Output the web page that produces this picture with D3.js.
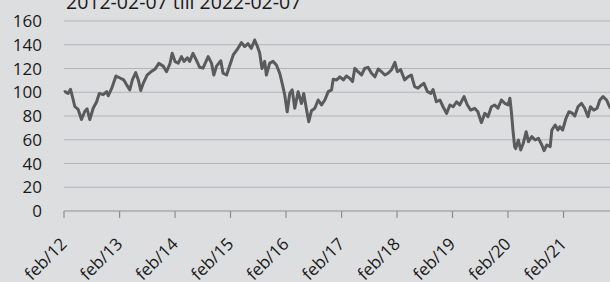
<!DOCTYPE html>
<html>
<head>
<meta charset="utf-8">
<script src="https://cdn.jsdelivr.net/npm/d3@7"></script>
<style>
  html, body { margin: 0; padding: 0; background: #dddee0; }
  svg { display: block; font-family: "Open Sans", sans-serif; }
</style>
</head>
<body>
<svg width="610" height="282"></svg>
<script>
const title = "2012-02-07 till 2022-02-07";

const dates = [
  "2012-02-07","2012-02-14","2012-03-05","2012-03-21","2012-04-03","2012-04-18","2012-05-10","2012-06-01",
  "2012-06-23","2012-07-08","2012-07-26","2012-08-17","2012-09-09","2012-09-26","2012-10-22","2012-11-14",
  "2012-11-24","2012-12-16","2013-01-14","2013-02-10","2013-03-06","2013-03-24","2013-04-15","2013-05-02",
  "2013-05-24","2013-06-11","2013-06-26","2013-07-11","2013-08-07","2013-08-30","2013-09-27","2013-10-23",
  "2013-11-21","2013-12-13","2014-01-04","2014-01-19","2014-02-07","2014-02-28","2014-03-21","2014-04-07",
  "2014-04-29","2014-05-14","2014-06-05","2014-06-27","2014-07-19","2014-08-10","2014-09-13","2014-10-05",
  "2014-10-20","2014-11-07","2014-12-05","2014-12-20","2015-01-12","2015-02-03","2015-02-25","2015-03-28",
  "2015-04-20","2015-05-11","2015-06-02","2015-06-24","2015-07-16","2015-08-03","2015-08-18","2015-09-02",
  "2015-09-20","2015-10-01","2015-10-23","2015-11-14","2015-12-06","2015-12-28","2016-01-13","2016-01-30",
  "2016-02-15","2016-03-03","2016-03-19","2016-04-05","2016-04-27","2016-05-19","2016-06-03","2016-06-21",
  "2016-07-06","2016-07-24","2016-08-15","2016-09-06","2016-09-28","2016-10-20","2016-11-11","2016-12-03",
  "2016-12-14","2017-01-06","2017-01-27","2017-02-19","2017-03-11","2017-04-02","2017-04-20","2017-05-05",
  "2017-05-26","2017-06-18","2017-07-09","2017-07-31","2017-08-23","2017-09-14","2017-10-06","2017-10-28",
  "2017-11-19","2017-12-10","2018-01-02","2018-01-24","2018-02-09","2018-03-03","2018-03-29","2018-04-20",
  "2018-05-12","2018-06-03","2018-06-25","2018-07-17","2018-08-03","2018-08-26","2018-09-17","2018-10-02",
  "2018-10-24","2018-11-16","2018-12-07","2018-12-30","2019-01-21","2019-02-12","2019-03-06","2019-03-26",
  "2019-04-24","2019-05-16","2019-06-07","2019-07-03","2019-07-24","2019-08-16","2019-09-08","2019-09-29",
  "2019-10-21","2019-11-12","2019-12-03","2019-12-26","2020-01-17","2020-02-08","2020-02-20","2020-03-01",
  "2020-03-11","2020-03-22","2020-03-29","2020-04-16","2020-05-01","2020-05-18","2020-06-06","2020-06-21",
  "2020-07-13","2020-08-04","2020-08-26","2020-09-17","2020-10-02","2020-10-20","2020-11-11","2020-11-22",
  "2020-12-14","2021-01-01","2021-01-14","2021-02-01","2021-02-23","2021-03-15","2021-04-07","2021-04-22",
  "2021-05-13","2021-06-05","2021-06-26","2021-07-18","2021-08-03","2021-08-25","2021-09-16","2021-10-04",
  "2021-10-25","2021-11-17","2021-12-09","2022-01-10","2022-02-07"
];

const values = [
  100, 100.5, 99, 102.5, 96, 88, 85.5, 77,
  84, 86, 77, 86.5, 92, 99, 98, 100.5,
  97, 103, 113.7, 112, 110.5, 106.5, 102, 110.5,
  116.5, 110, 101.5, 107, 114.5, 117, 119.3, 124.3,
  122, 117.3, 124, 132.8, 125.8, 124.5, 130, 126,
  129, 126, 132.8, 127, 121, 120.3, 130, 124.5,
  114.5, 122, 126.5, 116, 114.5, 123, 131.4, 137,
  141.8, 138.5, 141, 137, 144, 138.5, 133, 120,
  126, 114.5, 124.5, 126, 123, 116, 107.5, 97.7,
  83.6, 99, 102, 86.5, 100.5, 90.5, 99, 85.5,
  75.2, 84.5, 86.5, 93.5, 89.3, 93.5, 100.5, 102,
  110.9, 110.4, 113, 110.4, 113.7, 111.7, 109, 120.1,
  117.3, 114.5, 120, 121, 116, 113, 119.6, 117.3,
  114.5, 116, 119, 125.2, 117.3, 119, 110.4, 113,
  114.5, 104.7, 103.4, 106, 107.5, 100.5, 99, 102.3,
  92, 93.5, 87.8, 82.2, 89.3, 87.8, 92, 89.3,
  96.3, 89.3, 85, 86.5, 83.6, 74.4, 82.2, 79.5,
  87.8, 89.3, 86.5, 93.5, 90.7, 89.3, 95, 83,
  68, 54.2, 52.5, 59.8, 51.4, 57, 66.8, 58.4,
  62.6, 59.8, 61.2, 55.6, 50.8, 55.6, 54.2, 68.2,
  72.4, 68.2, 71, 68.2, 78, 83.6, 82.2, 80,
  87.8, 90.7, 86.5, 79.5, 87.8, 85, 86.5, 93.5,
  96.3, 93.5, 87.2, 88, 90
];

const yTicks = [0, 20, 40, 60, 80, 100, 120, 140, 160];
const xTickDates = ["2012-02-07","2013-02-07","2014-02-07","2015-02-07","2016-02-07",
                    "2017-02-07","2018-02-07","2019-02-07","2020-02-07","2021-02-07"];
const xTickLabels = ["feb/12","feb/13","feb/14","feb/15","feb/16",
                     "feb/17","feb/18","feb/19","feb/20","feb/21"];

const parse = d3.timeParse("%Y-%m-%d");
const series = dates.map((d, i) => ({ date: parse(d), value: values[i] }));

const svg = d3.select("svg");

const x = d3.scaleTime()
  .domain([parse("2012-02-07"), parse("2022-02-07")])
  .range([64, 619]);
const y = d3.scaleLinear().domain([0, 160]).range([211, 21]);

// gridlines
svg.append("g")
  .selectAll("line")
  .data(yTicks.filter(t => t > 0))
  .join("line")
  .attr("x1", 64).attr("x2", 610)
  .attr("y1", d => y(d)).attr("y2", d => y(d))
  .attr("stroke", "#b3b4b6")
  .attr("stroke-width", 1.2);

// y labels
svg.append("g")
  .selectAll("text")
  .data(yTicks)
  .join("text")
  .attr("x", 42)
  .attr("y", d => y(d) + 6)
  .attr("text-anchor", "end")
  .style("font-size", "17px")
  .attr("fill", "#1a1a1a")
  .text(d => d);

// x axis
svg.append("line")
  .attr("x1", 64).attr("x2", 610)
  .attr("y1", y(0)).attr("y2", y(0))
  .attr("stroke", "#8c8d8f")
  .attr("stroke-width", 1.2);

svg.append("g")
  .selectAll("line")
  .data(xTickDates)
  .join("line")
  .attr("x1", d => x(parse(d))).attr("x2", d => x(parse(d)))
  .attr("y1", y(0)).attr("y2", y(0) + 7)
  .attr("stroke", "#8c8d8f")
  .attr("stroke-width", 1.2);

svg.append("g")
  .selectAll("text")
  .data(xTickDates)
  .join("text")
  .attr("transform", d => `translate(${x(parse(d)) + 4},${y(0) + 34}) rotate(-45)`)
  .attr("text-anchor", "end")
  .style("font-size", "17px")
  .attr("fill", "#1a1a1a")
  .text((d, i) => xTickLabels[i]);

// line
const line = d3.line()
  .x(d => x(d.date))
  .y(d => y(d.value));

svg.append("path")
  .datum(series)
  .attr("fill", "none")
  .attr("stroke", "#5b5b5b")
  .attr("stroke-width", 3)
  .attr("stroke-linejoin", "round")
  .attr("d", line);

// title (top cut off as in the original)
svg.append("text")
  .attr("x", 66)
  .attr("y", 9)
  .style("font-size", "19.5px")
  .attr("fill", "#1a1a1a")
  .text(title);
</script>
</body>
</html>
